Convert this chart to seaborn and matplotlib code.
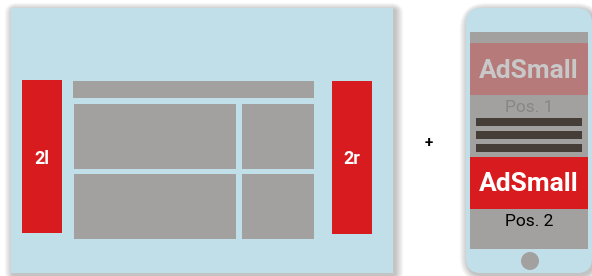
import matplotlib
matplotlib.use("Agg")
import matplotlib.pyplot as plt
from matplotlib.patches import Rectangle, FancyBboxPatch, Circle
import seaborn as sns

sns.set_style("white")
plt.rcParams['font.family'] = ['Roboto', 'DejaVu Sans']

# labels used in the sketch
side_labels = ["2l", "2r"]
ad_labels = ["AdSmall", "AdSmall"]
pos_labels = ["Pos. 1", "Pos. 2"]
joiner = "+"

light_blue = "#c1dfe9"
red = "#d81b1e"
grey = "#a3a19f"
dark = "#453d37"
faded_red = "#b57a79"

fig = plt.figure(figsize=(5.92, 2.76), dpi=100)
ax = fig.add_axes([0, 0, 1, 1])
ax.set_xlim(0, 592)
ax.set_ylim(276, 0)
ax.axis("off")


def shadow(x, y, w, h, rounded=0):
    # soft drop shadow: stacked translucent boxes
    for i in range(12, 0, -1):
        p = FancyBboxPatch((x + 2 - i * 0.7, y + 2 - i * 0.6), w + i * 1.4, h + i * 1.3,
                           boxstyle="round,pad=0,rounding_size=%g" % (rounded + i),
                           fc="black", ec="none", alpha=0.02)
        ax.add_patch(p)


# desktop page
shadow(11, 8, 382, 265)
ax.add_patch(Rectangle((11, 8), 382, 265, fc=light_blue, ec="none"))

ax.add_patch(Rectangle((22, 80), 40, 153, fc=red, ec="none"))
ax.add_patch(Rectangle((332, 81), 40, 153, fc=red, ec="none"))
ax.text(42, 159, side_labels[0], color="white", fontsize=13, fontweight="bold",
        ha="center", va="center")
ax.text(352, 159, side_labels[1], color="white", fontsize=13, fontweight="bold",
        ha="center", va="center")

content = [(73, 81, 241, 17), (74, 104, 162, 65), (242, 104, 72, 65),
           (74, 174, 162, 65), (242, 174, 72, 65)]
for x, y, w, h in content:
    ax.add_patch(Rectangle((x, y), w, h, fc=grey, ec="none"))

ax.text(429, 143, joiner, color="black", fontsize=11, fontweight="bold",
        ha="center", va="center")

# phone
shadow(466, 8, 126, 265, rounded=15)
ax.add_patch(FancyBboxPatch((466, 8), 126, 265, boxstyle="round,pad=0,rounding_size=15",
                            fc=light_blue, ec="none"))
ax.add_patch(Rectangle((470, 32), 118, 217, fc=grey, ec="none"))

ax.add_patch(Rectangle((470, 43), 118, 52, fc=faded_red, ec="none"))
ax.text(529, 71, ad_labels[0], color="#c8c8c8", fontsize=19, fontweight="bold",
        ha="center", va="center")
ax.text(529, 107, pos_labels[0], color="#868686", fontsize=12.5,
        ha="center", va="center")
for y in (118, 131, 144):
    ax.add_patch(Rectangle((476, y), 106, 8, fc=dark, ec="none"))

ax.add_patch(Rectangle((470, 157), 118, 52, fc=red, ec="none"))
ax.text(529, 184, ad_labels[1], color="white", fontsize=19, fontweight="bold",
        ha="center", va="center")
ax.text(529, 222, pos_labels[1], color="black", fontsize=12.5,
        ha="center", va="center")

ax.add_patch(Circle((530, 261), 9, fc=grey, ec="none"))

fig.savefig("out.png", dpi=100)
